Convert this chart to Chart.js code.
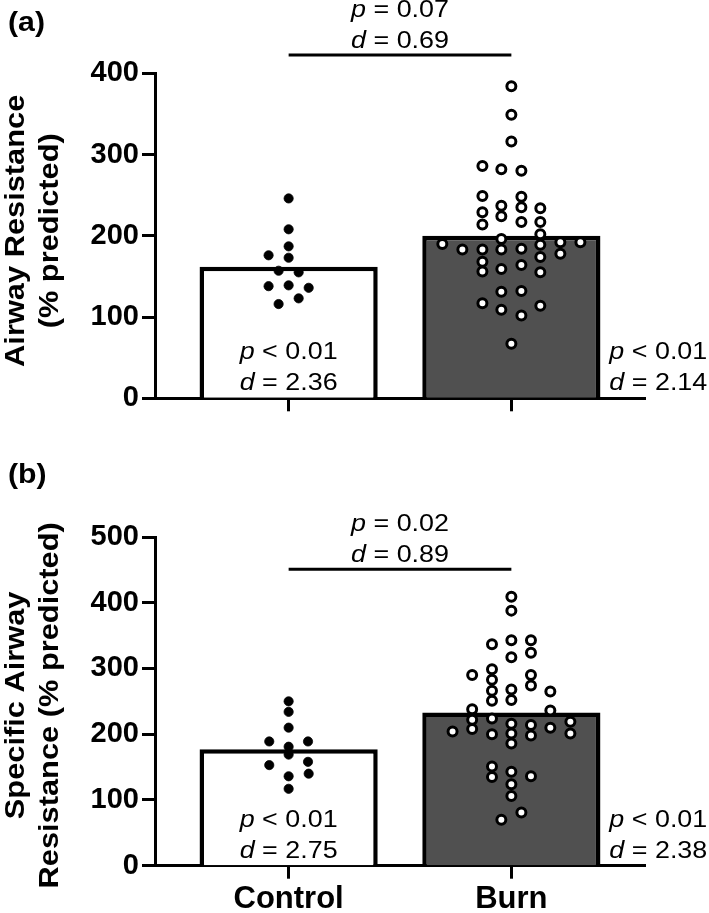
<!DOCTYPE html>
<html>
<head>
<meta charset="utf-8">
<title>Airway resistance: Control vs Burn</title>
<script src="https://cdn.jsdelivr.net/npm/chart.js@4.4.1/dist/chart.umd.min.js"></script>
<style>
    html, body { margin: 0; padding: 0; background: #fff; }
    #wrap { position: relative; width: 709px; height: 913px; }
    canvas { position: absolute; left: 0; }
</style>
</head>
<body>
<div id="wrap">
    <canvas id="chartA" width="709" height="460" style="top:0px"></canvas>
    <canvas id="chartB" width="709" height="453" style="top:460px"></canvas>
</div>
<script>
// Categories
const groups = ['Control', 'Burn'];
const groupPos = [0, 1];

// Panel (a): Airway Resistance (% predicted)
const rawMeans = [162, 200];
const rawControl = [246, 208, 187, 176, 173, 157, 155, 138, 139, 136, 123, 116];
const rawControlJitter = [0, 0, 0, -0.09, 0, -0.045, 0.045, -0.09, 0, 0.09, 0.045, -0.045];
const rawBurn = [384, 349, 316, 286, 282, 280, 249, 248, 237, 235, 234, 229, 224, 217, 217, 214, 202, 196, 190, 192,
                 192, 189, 183, 183, 183, 184, 178, 174, 168, 164, 159, 156, 155, 131, 132, 117, 114, 109, 102, 67];
const rawBurnJitter = [0, 0, 0, -0.13, -0.045, 0.045, -0.13, 0.045, -0.045, 0.045, 0.13, -0.13, -0.045, 0.045, 0.13, -0.13, 0.13, -0.045, -0.31, 0.22,
                       0.31, 0.13, -0.22, -0.13, -0.045, 0.045, 0.22, 0.13, -0.13, 0.045, -0.045, -0.13, 0.13, -0.045, 0.045, -0.13, 0.13, -0.045, 0.045, 0];

// Panel (b): Specific Airway Resistance (% predicted)
const sMeans = [177, 233];
const sControl = [250, 234, 210, 189, 189, 181, 169, 153, 158, 136, 140, 117];
const sControlJitter = [0, 0, 0, -0.087, 0.087, 0, 0, -0.087, 0.087, 0, 0.09, 0];
const sBurn = [409, 388, 337, 343, 343, 317, 324, 290, 299, 290, 283, 274, 266, 268, 265, 251, 252, 238, 236, 222,
               224, 219, 204, 208, 200, 216, 201, 186, 214, 198, 210, 201, 151, 135, 143, 124, 106, 136, 81, 70];
const sBurnJitter = [0, 0, -0.087, 0, 0.088, 0, 0.088, -0.176, -0.087, 0.088, -0.087, 0.088, -0.087, 0, 0.175, -0.087, 0, -0.176, 0.175, -0.176,
                     -0.087, 0.265, -0.264, -0.176, -0.087, 0, 0, 0, 0.088, 0.088, 0.175, 0.265, -0.087, -0.087, 0, 0, 0, 0.088, 0.045, -0.045];

const FONT = "'Liberation Sans', Arial, Helvetica, sans-serif";
const STRETCH = 1.12;

// italic symbol followed by regular text, e.g. "p" + " < 0.01"
function drawStat(ctx, sym, rest, x, y, align) {
    ctx.save();
    ctx.font = 'italic 24px ' + FONT;
    const w1 = ctx.measureText(sym).width;
    ctx.font = '24px ' + FONT;
    const w2 = ctx.measureText(rest).width;
    const total = (w1 + w2) * STRETCH;
    const left = align === 'left' ? x : x - total / 2;
    ctx.translate(left, y);
    ctx.scale(STRETCH, 1);
    ctx.fillStyle = '#000';
    ctx.textAlign = 'left';
    ctx.textBaseline = 'middle';
    ctx.font = 'italic 24px ' + FONT;
    ctx.fillText(sym, 0, 0);
    ctx.font = '24px ' + FONT;
    ctx.fillText(rest, w1, 0);
    ctx.restore();
}

function drawYTitle(ctx, text, baseX, cy) {
    ctx.save();
    ctx.translate(baseX, cy);
    ctx.rotate(-Math.PI / 2);
    ctx.scale(1.1, 1);
    ctx.font = 'bold 28px ' + FONT;
    ctx.fillStyle = '#000';
    ctx.textAlign = 'center';
    ctx.textBaseline = 'alphabetic';
    ctx.fillText(text, 0, 0);
    ctx.restore();
}

function makeDecor(cfg) {
    return {
        id: 'decor',
        afterDraw(chart) {
            const ctx = chart.ctx;
            const xs = chart.scales.x;
            const ys = chart.scales.y;
            const area = chart.chartArea;
            const xc = xs.getPixelForValue(groupPos[0]);
            const xb = xs.getPixelForValue(groupPos[1]);

            // comparison bracket between groups
            const ly = ys.getPixelForValue(cfg.bracket);
            ctx.save();
            ctx.strokeStyle = '#000';
            ctx.lineWidth = 3;
            ctx.beginPath();
            ctx.moveTo(xc, ly);
            ctx.lineTo(xb, ly);
            ctx.stroke();
            ctx.restore();
            drawStat(ctx, 'p', cfg.between[0], (xc + xb) / 2, ly - 45, 'center');
            drawStat(ctx, 'd', cfg.between[1], (xc + xb) / 2, ly - 13.5, 'center');

            // within-group stats
            drawStat(ctx, 'p', cfg.control[0], xc, area.bottom - 45.5, 'center');
            drawStat(ctx, 'd', cfg.control[1], xc, area.bottom - 14.5, 'center');
            drawStat(ctx, 'p', cfg.burn[0], xb + 98, area.bottom - 45.5, 'left');
            drawStat(ctx, 'd', cfg.burn[1], xb + 98, area.bottom - 14.5, 'left');

            // axis title, two lines
            const cy = (area.top + area.bottom) / 2 + cfg.titleShift;
            drawYTitle(ctx, cfg.title[0], 24, cy);
            drawYTitle(ctx, cfg.title[1], 58, cy);

            // panel letter
            ctx.save();
            ctx.translate(8, cfg.labelY);
            ctx.scale(STRETCH, 1);
            ctx.font = 'bold 27px ' + FONT;
            ctx.fillStyle = '#000';
            ctx.textAlign = 'left';
            ctx.textBaseline = 'middle';
            ctx.fillText(cfg.label, 0, 0);
            ctx.restore();
        }
    };
}

function makePanel(id, means, control, controlJitter, burn, burnJitter, cfg) {
    const ctx = document.getElementById(id);
    return new Chart(ctx, {
        type: 'scatter',
        data: {
            datasets: [{
                type: 'bar',
                data: groupPos.map((x, i) => ({ x: x, y: means[i] })),
                backgroundColor: ['#ffffff', '#505050'],
                borderColor: '#000',
                borderWidth: 4.5,
                barPercentage: 0.8,
                categoryPercentage: 1,
                order: 2
            }, {
                data: control.map((v, i) => ({ x: groupPos[0] + controlJitter[i], y: v })),
                pointRadius: 4.6,
                pointBackgroundColor: '#000',
                pointBorderColor: '#000',
                pointBorderWidth: 0.8,
                order: 1
            }, {
                data: burn.map((v, i) => ({ x: groupPos[1] + burnJitter[i], y: v })),
                pointRadius: 4.5,
                pointBackgroundColor: '#fff',
                pointBorderColor: '#000',
                pointBorderWidth: 3,
                order: 0
            }]
        },
        options: {
            responsive: false,
            animation: false,
            events: [],
            layout: { padding: { top: cfg.top, right: 64, left: 0, bottom: 0 } },
            plugins: {
                legend: { display: false },
                tooltip: { enabled: false }
            },
            scales: {
                x: {
                    type: 'linear',
                    min: -0.6,
                    max: 1.6,
                    offset: false,
                    afterBuildTicks: (s) => { s.ticks = groupPos.map(v => ({ value: v })); },
                    afterFit: (s) => { s.height = cfg.h - cfg.bottom; },
                    grid: { drawOnChartArea: false, drawTicks: true, tickLength: 13, tickWidth: 3, tickColor: '#000', offset: false },
                    border: { display: true, width: 3, color: '#000' },
                    ticks: {
                        display: cfg.showLabels,
                        callback: (v, i) => groups[i],
                        font: { family: FONT, size: 31, weight: 'bold' },
                        color: '#000',
                        padding: 2,
                        maxRotation: 0,
                        autoSkip: false
                    }
                },
                y: {
                    min: 0,
                    max: cfg.max,
                    afterFit: (s) => { s.width = 155; },
                    grid: { drawOnChartArea: false, tickLength: 13, tickWidth: 3, tickColor: '#000' },
                    border: { display: true, width: 3, color: '#000' },
                    ticks: {
                        stepSize: 100,
                        font: { family: FONT, size: 29, weight: 'bold' },
                        color: '#000',
                        padding: 3
                    }
                }
            }
        },
        plugins: [makeDecor(cfg)]
    });
}

// Panel (a)
makePanel('chartA', rawMeans, rawControl, rawControlJitter, rawBurn, rawBurnJitter, {
    h: 460, top: 73.3, bottom: 398.3, max: 400, showLabels: false,
    bracket: 422.5,
    between: [' = 0.07', ' = 0.69'],
    control: [' < 0.01', ' = 2.36'],
    burn: [' < 0.01', ' = 2.14'],
    title: ['Airway Resistance', '(% predicted)'],
    titleShift: -5,
    label: '(a)', labelY: 24
});

// Panel (b)
makePanel('chartB', sMeans, sControl, sControlJitter, sBurn, sBurnJitter, {
    h: 453, top: 77, bottom: 405.7, max: 500, showLabels: true,
    bracket: 451,
    between: [' = 0.02', ' = 0.89'],
    control: [' < 0.01', ' = 2.75'],
    burn: [' < 0.01', ' = 2.38'],
    title: ['Specific Airway', 'Resistance (% predicted)'],
    titleShift: 4,
    label: '(b)', labelY: 16
});
</script>
</body>
</html>
